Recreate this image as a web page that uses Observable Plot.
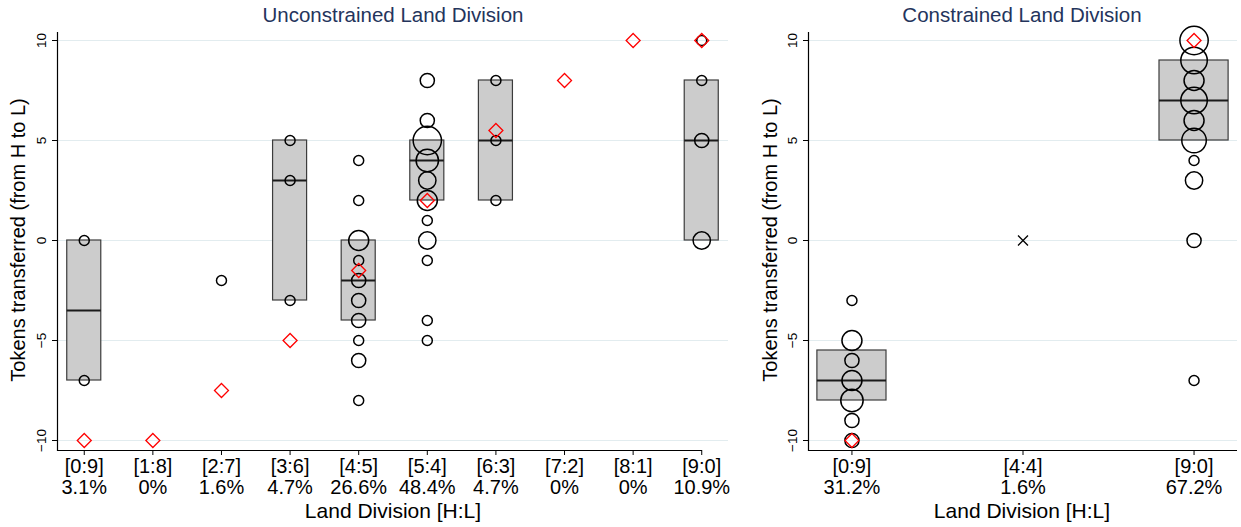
<!DOCTYPE html>
<html>
<head>
<meta charset="utf-8">
<script src="https://cdn.jsdelivr.net/npm/d3@7"></script>
<script src="https://cdn.jsdelivr.net/npm/@observablehq/plot@0.6"></script>
<style>
  body { margin: 0; background: #fff; font-family: "Liberation Sans", Arial, sans-serif; }
  #wrap { position: relative; width: 1241px; height: 527px; overflow: hidden; background: #fff; }
  .panel { position: absolute; top: 0; }
  .title { position: absolute; top: 4px; line-height: 22px; font-size: 20.5px; color: #24345c; white-space: nowrap; transform: translateX(-50%); }
  .ylab { position: absolute; font-size: 20px; line-height: 22px; white-space: nowrap; transform: translate(-50%, -50%) rotate(-90deg); color: #000; }
  .xlab { position: absolute; top: 499px; font-size: 21px; line-height: 24px; white-space: nowrap; transform: translateX(-50%); color: #000; }
</style>
</head>
<body>
<div id="wrap">
  <div id="left" class="panel" style="left:0px"></div>
  <div id="right" class="panel" style="left:740px"></div>
  <div class="title" style="left:393px">Unconstrained Land Division</div>
  <div class="title" style="left:1022px">Constrained Land Division</div>
  <div class="ylab" style="left:18px; top:240px">Tokens transferred (from H to L)</div>
  <div class="ylab" style="left:770px; top:240px">Tokens transferred (from H to L)</div>
  <div class="xlab" style="left:393px">Land Division [H:L]</div>
  <div class="xlab" style="left:1022px">Land Division [H:L]</div>
</div>
<script>
// ---------- Data: Unconstrained ----------
const uCats   = ["[0:9]","[1:8]","[2:7]","[3:6]","[4:5]","[5:4]","[6:3]","[7:2]","[8:1]","[9:0]"];
const uShares = ["3.1%","0%","1.6%","4.7%","26.6%","48.4%","4.7%","0%","0%","10.9%"];

const uBoxCat = ["[0:9]","[3:6]","[4:5]","[5:4]","[6:3]","[9:0]"];
const uBoxQ1  = [-7, -3, -4, 2, 2, 0];
const uBoxMed = [-3.5, 3, -2, 4, 5, 5];
const uBoxQ3  = [0, 5, 0, 5, 8, 8];

const uObsCat = ["[0:9]","[0:9]",
  "[2:7]",
  "[3:6]","[3:6]","[3:6]",
  "[4:5]","[4:5]","[4:5]","[4:5]","[4:5]","[4:5]","[4:5]","[4:5]","[4:5]","[4:5]",
  "[5:4]","[5:4]","[5:4]","[5:4]","[5:4]","[5:4]","[5:4]","[5:4]","[5:4]","[5:4]","[5:4]",
  "[6:3]","[6:3]","[6:3]",
  "[9:0]","[9:0]","[9:0]","[9:0]"];
const uObsValue = [0, -7,
  -2,
  5, 3, -3,
  4, 2, 0, -1, -2, -3, -4, -5, -6, -8,
  8, 6, 5, 4, 3, 2, 1, 0, -1, -4, -5,
  8, 5, 2,
  10, 8, 5, 0];
const uObsCount = [1, 1,
  1,
  1, 1, 1,
  1, 1, 4, 1, 2, 2, 2, 1, 2, 1,
  2, 2, 8, 5, 3, 4, 1, 3, 1, 1, 1,
  1, 1, 1,
  1, 1, 2, 3];

const uPredCat   = ["[0:9]","[1:8]","[2:7]","[3:6]","[4:5]","[5:4]","[6:3]","[7:2]","[8:1]","[9:0]"];
const uPredValue = [-10, -10, -7.5, -5, -1.5, 2, 5.5, 8, 10, 10];

// ---------- Data: Constrained ----------
const cCats   = ["[0:9]","[4:4]","[9:0]"];
const cShares = ["31.2%","1.6%","67.2%"];

const cBoxCat = ["[0:9]","[9:0]"];
const cBoxQ1  = [-8, 5];
const cBoxMed = [-7, 7];
const cBoxQ3  = [-5.5, 9];

const cObsCat = ["[0:9]","[0:9]","[0:9]","[0:9]","[0:9]","[0:9]","[0:9]",
  "[9:0]","[9:0]","[9:0]","[9:0]","[9:0]","[9:0]","[9:0]","[9:0]","[9:0]","[9:0]"];
const cObsValue = [-3, -5, -6, -7, -8, -9, -10,
  10, 9, 8, 7, 6, 5, 4, 3, 0, -7];
const cObsCount = [1, 4, 2, 4, 5, 2, 2,
  8, 7, 4, 7, 4, 6, 1, 3, 2, 1];

const cCrossCat   = ["[4:4]"];
const cCrossValue = [0];

const cPredCat   = ["[0:9]","[9:0]"];
const cPredValue = [-10, 10];

const yTicks = [-10, -5, 0, 5, 10];

// ---------- helpers ----------
const zip = (keys, ...cols) => cols[0].map((_, i) => Object.fromEntries(keys.map((k, j) => [k, cols[j][i]])));
const font = "Liberation Sans, Arial, sans-serif";

function panel({cats, shares, boxes, obs, preds, cross, width, marginLeft, marginRight, paddingInner, paddingOuter, axisInsetRight}) {
  const shareOf = new Map(cats.map((c, i) => [c, shares[i]]));
  const marks = [
    Plot.gridY(yTicks, {stroke: "#e2ecef", strokeOpacity: 1, strokeWidth: 1}),
    Plot.barY(boxes, {x: "cat", y1: "q1", y2: "q3", fill: "#cccccc", stroke: "#3c3c3c", strokeWidth: 1.2}),
    Plot.tickY(boxes, {x: "cat", y: "med", stroke: "#1a1a1a", strokeWidth: 2}),
    Plot.dot(obs, {x: "cat", y: "value", r: "count", stroke: "#000", strokeWidth: 1.5, fill: "none"}),
    Plot.dot(preds, {x: "cat", y: "value", symbol: "diamond2", r: 6.3, stroke: "#ff0000", strokeWidth: 1.3, fill: "none"}),
    Plot.axisY(yTicks, {tickSize: 5, tickRotate: -90, fontSize: 13.5, tickPadding: 7, tickFormat: d => d < 0 ? "\u2212" + Math.abs(d) : String(d), label: null}),
    Plot.axisX({tickSize: 5, fontSize: 20, tickPadding: 3, lineHeight: 1.05, tickFormat: d => d + "\n" + shareOf.get(d), label: null}),
    Plot.frame({anchor: "left", stroke: "#000", strokeWidth: 1.2}),
    Plot.ruleY([-10.5], {stroke: "#000", strokeWidth: 1.2, insetRight: axisInsetRight})
  ];
  if (cross) marks.push(Plot.dot(cross, {x: "cat", y: "value", symbol: "times", r: 4.6, stroke: "#000", strokeWidth: 1.3}));
  return Plot.plot({
    width, height: 527,
    marginLeft, marginRight, marginTop: 32, marginBottom: 77,
    style: {fontFamily: font, background: "transparent", color: "#000", overflow: "visible"},
    x: {type: "band", domain: cats, paddingInner, paddingOuter, round: false, axis: null},
    y: {domain: [-10.5, 10.4], axis: null},
    r: {type: "sqrt", domain: [0, 9], range: [0, 15]},
    marks
  });
}

document.getElementById("left").append(panel({
  cats: uCats, shares: uShares,
  boxes: zip(["cat","q1","med","q3"], uBoxCat, uBoxQ1, uBoxMed, uBoxQ3),
  obs: zip(["cat","value","count"], uObsCat, uObsValue, uObsCount),
  preds: zip(["cat","value"], uPredCat, uPredValue),
  cross: null,
  width: 740, marginLeft: 57, marginRight: 12,
  paddingInner: 0.504, paddingOuter: 0.142, axisInsetRight: 26
}));

document.getElementById("right").append(panel({
  cats: cCats, shares: cShares,
  boxes: zip(["cat","q1","med","q3"], cBoxCat, cBoxQ1, cBoxMed, cBoxQ3),
  obs: zip(["cat","value","count"], cObsCat, cObsValue, cObsCount),
  preds: zip(["cat","value"], cPredCat, cPredValue),
  cross: zip(["cat","value"], cCrossCat, cCrossValue),
  width: 501, marginLeft: 68, marginRight: 4,
  paddingInner: 0.596, paddingOuter: 0.052, axisInsetRight: 0
}));
</script>
</body>
</html>
